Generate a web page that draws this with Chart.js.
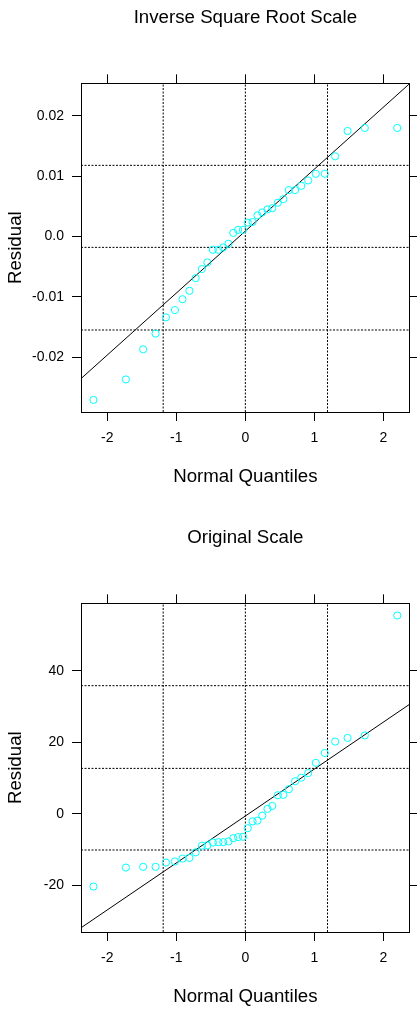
<!DOCTYPE html>
<html lang="en">
<head>
<meta charset="UTF-8">
<title>Residual QQ plots</title>
<script src="https://cdn.jsdelivr.net/npm/chart.js@4.4.0/dist/chart.umd.min.js"></script>
<style>
  body { margin: 0; background: #fff; }
  canvas.panel { position: absolute; left: 0; }
</style>
</head>
<body>
<canvas id="qqInvSqrt" class="panel" width="417" height="490" style="top:0"></canvas>
<canvas id="qqOriginal" class="panel" width="417" height="490" style="top:520px"></canvas>
<script>
// normal quantiles shared by both panels (36 residuals)
const quantiles = [-2.20, -1.73, -1.48, -1.30, -1.15, -1.02, -0.91, -0.81, -0.72, -0.63, -0.55, -0.47,
  -0.39, -0.32, -0.245, -0.175, -0.105, -0.035, 0.035, 0.105, 0.175, 0.245, 0.32, 0.39,
  0.47, 0.55, 0.63, 0.72, 0.81, 0.91, 1.02, 1.15, 1.30, 1.48, 1.73, 2.20];

// sorted residuals, inverse square root scale
const resInvSqrt = [-0.0271, -0.0237, -0.0187, -0.0161, -0.0134, -0.0122, -0.0104, -0.0090, -0.0069,
  -0.0054, -0.0043, -0.0022, -0.0022, -0.0018, -0.0012, 0.0006, 0.0011, 0.0011, 0.0023, 0.0024,
  0.0035, 0.0040, 0.0045, 0.0047, 0.0056, 0.0062, 0.0077, 0.0077, 0.0084, 0.0093, 0.0104, 0.0104,
  0.0133, 0.0175, 0.0180, 0.0180];

// sorted residuals, original scale
const resOriginal = [-20.3, -15.0, -14.8, -14.8, -13.6, -13.3, -12.5, -12.3, -10.75, -8.9, -8.8, -8.0,
  -7.9, -7.9, -7.7, -6.8, -6.5, -6.4, -4.0, -2.1, -1.9, -0.5, 1.4, 2.2, 5.2, 5.3, 6.9, 9.1, 10.1,
  11.4, 14.25, 17.0, 20.2, 21.2, 21.9, 55.4];

// reference lines (dotted) and the qq line end points
const refX = [-1.19, 0, 1.19];
const refYInvSqrt = [-0.0155, -0.0018, 0.0118];
const refYOriginal = [-10.1, 12.7, 35.8];
const fitX = [-2.5, 2.5];
const fitYInvSqrt = [-0.0248, 0.0266];
const fitYOriginal = [-33.4, 32.2];

// axes
const xRange = [-2.38, 2.38];
const xTicks = [-2, -1, 0, 1, 2];
const xTickLabels = ['-2', '-1', '0', '1', '2'];
const yRangeInvSqrt = [-0.0291, 0.0254];
const yTicksInvSqrt = [-0.02, -0.01, 0, 0.01, 0.02];
const yTickLabelsInvSqrt = ['-0.02', '-0.01', '0.0', '0.01', '0.02'];
const yRangeOriginal = [-33.0, 58.8];
const yTicksOriginal = [-20, 0, 20, 40];
const yTickLabelsOriginal = ['-20', '0', '20', '40'];

const FAMILY = '"Liberation Sans", Arial, Helvetica, sans-serif';
const TITLE_SIZE = 18.7;
const TICK_SIZE = 14;

function setTicks(values) {
  return scale => { scale.ticks = values.map(v => ({ value: v })); };
}

function axis(pos, range, ticks, labels, size, title, titlePad) {
  const horiz = pos === 'top' || pos === 'bottom';
  return {
    type: 'linear',
    axis: horiz ? 'x' : 'y',
    position: pos,
    min: range[0],
    max: range[1],
    afterBuildTicks: setTicks(ticks),
    afterFit: s => { if (horiz) s.height = size; else s.width = size; },
    ticks: {
      display: !!labels,
      callback: (v, i) => labels ? labels[i] : '',
      font: { family: FAMILY, size: TICK_SIZE },
      color: '#000',
      padding: horiz ? 9 : 8,
      maxRotation: 0,
      autoSkip: false
    },
    grid: { drawOnChartArea: false, drawTicks: true, tickLength: 9, color: '#000', lineWidth: 1 },
    border: { display: true, color: '#000', width: 1 },
    title: title ? {
      display: true, text: title, color: '#000',
      font: { family: FAMILY, size: TITLE_SIZE },
      padding: titlePad
    } : { display: false }
  };
}

function drawPanel(id, title, res, yRange, yTicks, yLabels, refY, fitY) {
  const datasets = [{
    data: quantiles.map((q, i) => ({ x: q, y: res[i] })),
    showLine: false,
    pointStyle: 'circle',
    pointRadius: 3.6,
    pointBorderWidth: 1,
    pointBorderColor: '#00ffff',
    pointBackgroundColor: 'rgba(0,0,0,0)'
  }, {
    data: fitX.map((x, i) => ({ x: x, y: fitY[i] })),
    showLine: true,
    borderColor: '#000',
    borderWidth: 1,
    pointRadius: 0
  }];
  const dotted = pts => ({
    data: pts,
    showLine: true,
    borderColor: '#000',
    borderWidth: 1,
    borderDash: [2, 1.5],
    pointRadius: 0
  });
  refX.forEach(v => datasets.push(dotted([{ x: v, y: yRange[0] }, { x: v, y: yRange[1] }])));
  refY.forEach(v => datasets.push(dotted([{ x: xRange[0], y: v }, { x: xRange[1], y: v }])));

  new Chart(document.getElementById(id), {
    type: 'scatter',
    data: { datasets },
    options: {
      responsive: false,
      animation: false,
      events: [],
      layout: { padding: 0, autoPadding: false },
      plugins: {
        legend: { display: false },
        tooltip: { enabled: false },
        title: {
          display: true, text: title, color: '#000',
          fullSize: false,
          font: { family: FAMILY, size: TITLE_SIZE, weight: 'normal' },
          padding: { top: 7, bottom: 44.9 }
        }
      },
      scales: {
        x: axis('bottom', xRange, xTicks, xTickLabels, 78, 'Normal Quantiles', { top: 0, bottom: 2 }),
        x2: axis('top', xRange, xTicks, null, 9),
        y: axis('left', yRange, yTicks, yLabels, 81, 'Residual', { top: 4.6, bottom: 0 }),
        y2: axis('right', yRange, yTicks, null, 7.3)
      }
    }
  });
}

drawPanel('qqInvSqrt', 'Inverse Square Root Scale', resInvSqrt, yRangeInvSqrt,
  yTicksInvSqrt, yTickLabelsInvSqrt, refYInvSqrt, fitYInvSqrt);
drawPanel('qqOriginal', 'Original Scale', resOriginal, yRangeOriginal,
  yTicksOriginal, yTickLabelsOriginal, refYOriginal, fitYOriginal);
</script>
</body>
</html>
